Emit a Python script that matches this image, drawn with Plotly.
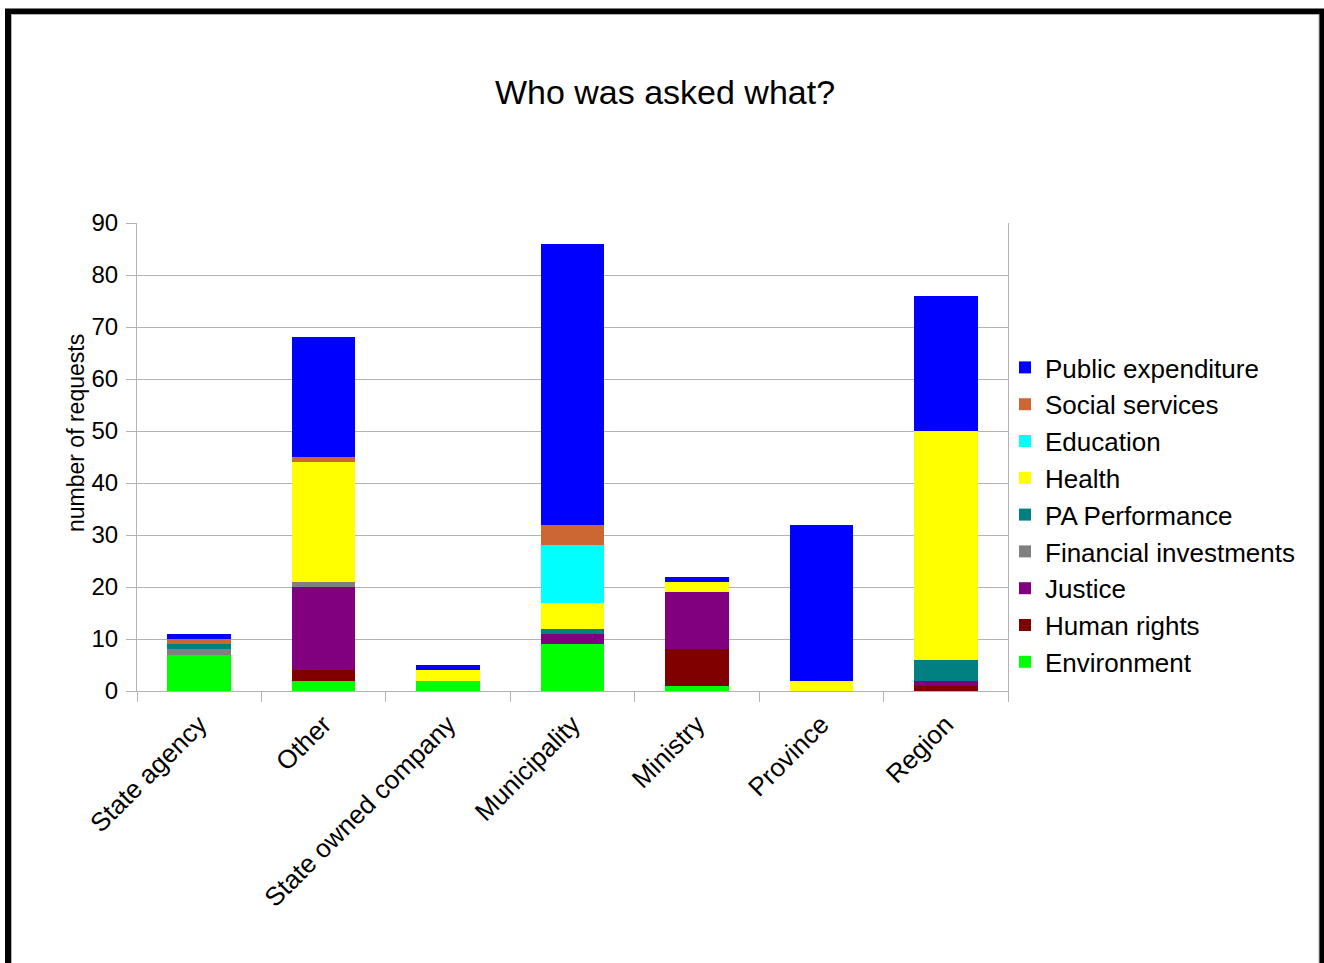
import plotly.graph_objects as go

categories = ["State agency", "Other", "State owned company", "Municipality", "Ministry", "Province", "Region"]

environment = [7, 2, 2, 9, 1, 0, 0]
human_rights = [0, 2, 0, 0, 7, 0, 1]
justice = [0, 16, 0, 2, 11, 0, 1]
financial_investments = [1, 1, 0, 0, 0, 0, 0]
pa_performance = [1, 0, 0, 1, 0, 0, 4]
health = [0, 23, 2, 5, 2, 2, 44]
education = [0, 0, 0, 11, 0, 0, 0]
social_services = [1, 1, 0, 4, 0, 0, 0]
public_expenditure = [1, 23, 1, 54, 1, 30, 26]

series = [
    ("Environment", environment, "#00FF00"),
    ("Human rights", human_rights, "#800000"),
    ("Justice", justice, "#800080"),
    ("Financial investments", financial_investments, "#808080"),
    ("PA Performance", pa_performance, "#008080"),
    ("Health", health, "#FFFF00"),
    ("Education", education, "#00FFFF"),
    ("Social services", social_services, "#CC6633"),
    ("Public expenditure", public_expenditure, "#0000FF"),
]

fig = go.Figure()
for i, (name, vals, col) in enumerate(series):
    fig.add_trace(go.Bar(x=categories, y=vals, name=name, marker=dict(color=col, line=dict(width=0)),
                         legendgroup=name, legendrank=1000 - i))

W, H = 1324, 963
L, R, T, B = 137, 1008, 223, 691
pw, ph = R - L, B - T

def px_x(v):
    return (v - L) / pw

def px_y(v):
    return (B - v) / ph

fig.update_layout(
    width=W, height=H,
    margin=dict(l=L, r=W - R, t=T, b=H - B),
    barmode="stack",
    bargap=0.49,
    paper_bgcolor="white",
    plot_bgcolor="white",
    font=dict(family="Liberation Sans, Arial, sans-serif", color="black"),
    title=dict(text="Who was asked what?", x=665 / W, xanchor="center", xref="container",
               y=1 - 92 / H, yanchor="middle", yref="container", font=dict(size=34, color="black")),
    legend=dict(traceorder="grouped", tracegroupgap=0, font=dict(size=26),
                x=px_x(1005), xanchor="left", y=px_y(344), yanchor="top", itemwidth=30,
                bgcolor="rgba(0,0,0,0)"),
    xaxis=dict(tickangle=-45, tickfont=dict(size=26), showline=True, linecolor="#b3b3b3", linewidth=1,
               ticks="outside", tickson="boundaries", ticklen=10, tickcolor="#b3b3b3", mirror=False,
               showgrid=False, ticklabelstandoff=7),
    yaxis=dict(range=[0, 90], dtick=10, tickfont=dict(size=24), showline=True, linecolor="#b3b3b3",
               linewidth=1, mirror=True, ticks="outside", ticklen=10, tickcolor="#b3b3b3",
               gridcolor="#b3b3b3", gridwidth=1, zeroline=False, ticklabelstandoff=3),
    showlegend=True,
)

fig.add_annotation(text="number of requests", xref="paper", yref="paper", x=px_x(76), y=px_y(433),
                   xanchor="center", yanchor="middle", textangle=-90, showarrow=False,
                   font=dict(size=23, color="black"))

fig.add_shape(type="rect", xref="paper", yref="paper",
              x0=px_x(8), x1=px_x(1322), y0=px_y(1100), y1=px_y(11.5),
              line=dict(color="black", width=6), fillcolor="rgba(0,0,0,0)", layer="above")
fig.add_shape(type="rect", xref="paper", yref="paper",
              x0=px_x(11.5), x1=px_x(1319), y0=px_y(1100), y1=px_y(14.5),
              line=dict(color="#b3b3b3", width=1), fillcolor="rgba(0,0,0,0)", layer="above")

fig.write_html("out.html")
